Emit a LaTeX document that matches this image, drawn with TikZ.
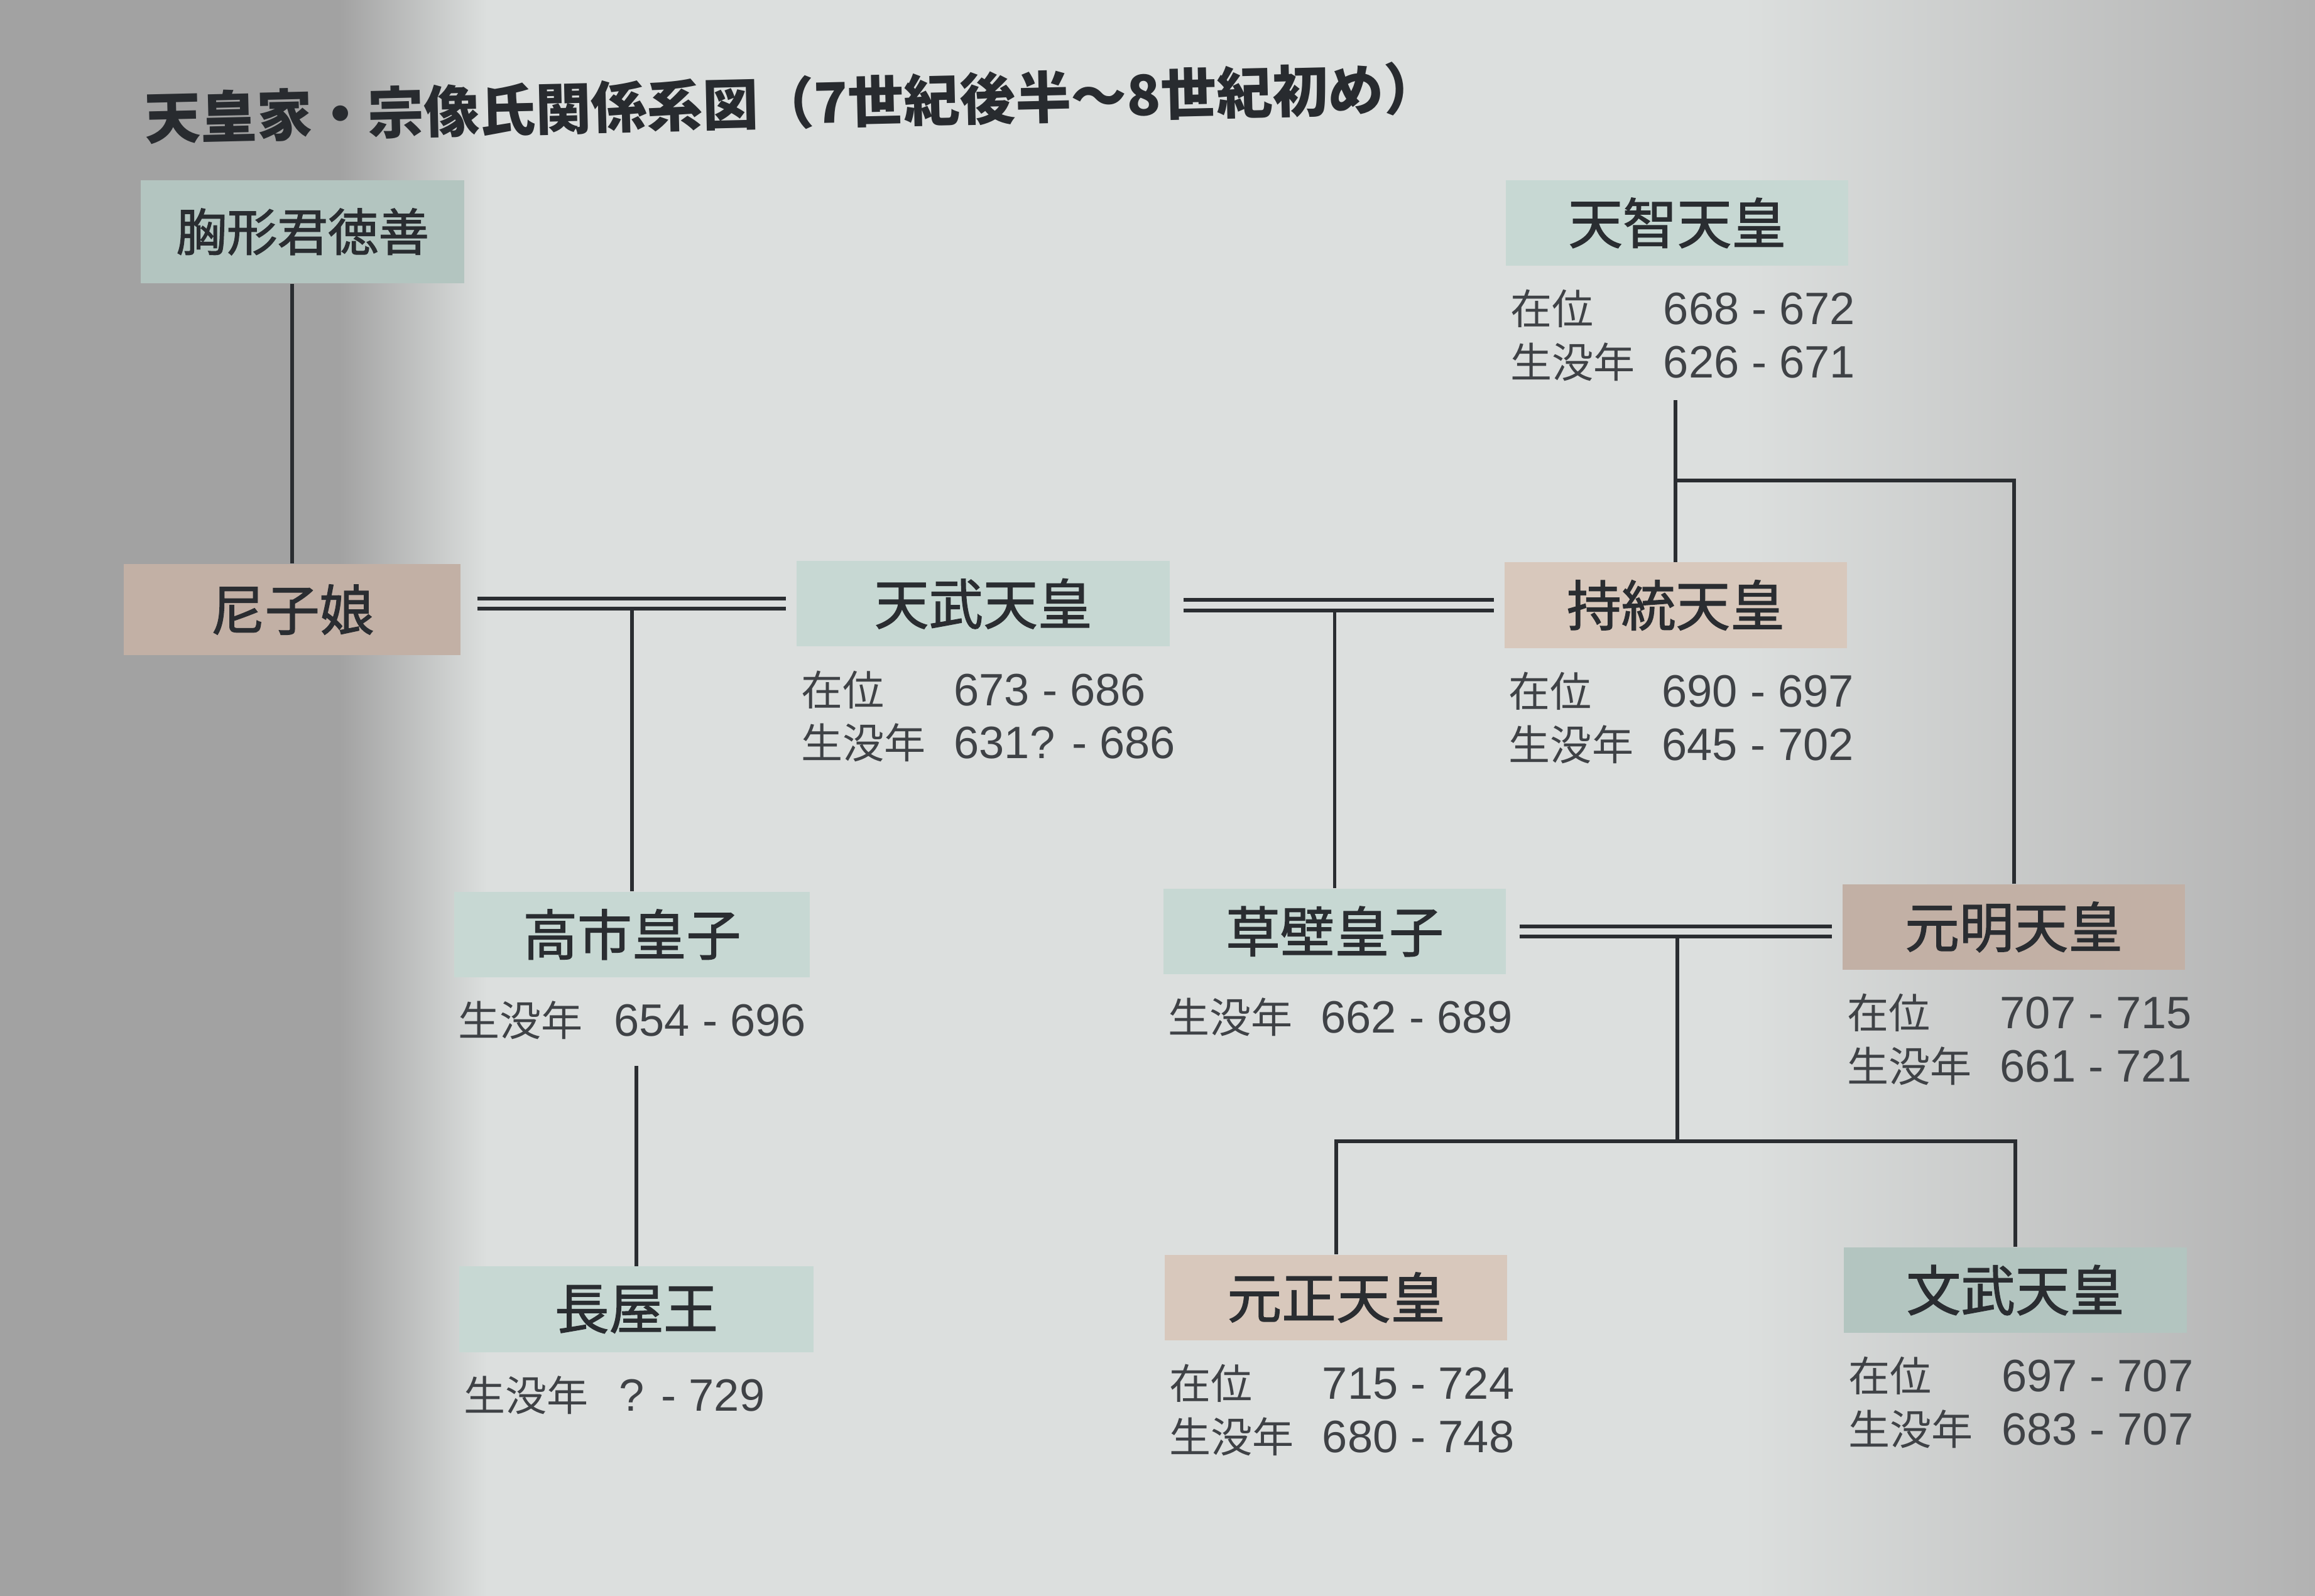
\documentclass[tikz,border=0pt]{standalone}
\usepackage{fontspec}
\usepackage{array}
\setmainfont{Noto Sans CJK JP}
\newfontfamily\boxfont{Noto Sans CJK JP}[FakeBold=1.5]
\newfontfamily\libsans{Liberation Sans}
\newcolumntype{N}{>{\libsans\fontsize{17.5}{20.5}\selectfont}l}
\usetikzlibrary{positioning}
\definecolor{paper}{HTML}{DCDFDE}
\definecolor{shadowL}{HTML}{A2A2A2}
\definecolor{shadowR}{HTML}{B2B2B2}
\definecolor{ink}{HTML}{2A2D31}
\definecolor{malefill}{HTML}{C7D8D3}
\definecolor{maleshade}{HTML}{B3C5C0}
\definecolor{femalefill}{HTML}{D8C8BC}
\definecolor{femaleshade}{HTML}{C2B0A5}
\tikzset{
  person/.style={inner sep=0pt, text=ink, minimum width=4.64cm, minimum height=1.16cm,
    font=\boxfont\fontsize{21}{25}\selectfont},
  male/.style={person, fill=malefill},
  female/.style={person, fill=femalefill},
  data/.style={below=0.28cm of #1.south west, anchor=north west, xshift=0.06cm,
    inner sep=0pt, text=ink!90, font=\fontsize{16}{20.5}\selectfont},
  line/.style={draw=ink, line width=0.05cm},
  titletext/.style={inner sep=0pt, text=ink!95!black, font=\fontsize{21.5}{25}\selectfont\bfseries},
}

\begin{document}
\begin{tikzpicture}[x=0.02cm, y=-0.02cm]
% paper, with the shadow of the photo
\useasboundingbox (0,0) rectangle (1568,1081);
\fill[paper] (0,0) rectangle (1568,1081);
\fill[shadowL] (0,0) rectangle (230,1081);
\shade[left color=shadowL, right color=paper] (230,0) rectangle (330,1081);
\shade[left color=paper, right color=shadowR] (1180,0) rectangle (1568,1081);

\node[titletext, anchor=west, rotate=1.35] (title) at (98,80) {天皇家・宗像氏関係系図（7世紀後半〜8世紀初め）};

\node[male, fill=maleshade, minimum width=4.38cm, minimum height=1.4cm,
  font=\boxfont\fontsize{19.5}{23}\selectfont] (munakata) at (205,157) {胸形君徳善};
\node[female, fill=femaleshade, minimum width=4.56cm, minimum height=1.24cm] (amako) at (198,413) {尼子娘};
\node[male, minimum width=5.06cm] (tenmu) at (666,409) {天武天皇};
\node[male] (tenji) at (1136,151) {天智天皇};
\node[female] (jito) at (1135,410) {持統天皇};
\node[male, minimum width=4.82cm] (takechi) at (428,633) {高市皇子};
\node[male] (kusakabe) at (904,631) {草壁皇子};
\node[female, fill=femaleshade] (genmei) at (1364,628) {元明天皇};
\node[male, minimum width=4.8cm] (nagaya) at (431,887) {長屋王};
\node[female] (gensho) at (905,879) {元正天皇};
\node[male, fill=maleshade] (monmu) at (1365,874) {文武天皇};

\node[data=tenmu] (tenmu-d) {\begin{tabular}{@{}l@{\hspace{11pt}}N@{}}在位 & 673 - 686\\生没年 & 631? - 686\end{tabular}};
\node[data=tenji] (tenji-d) {\begin{tabular}{@{}l@{\hspace{11pt}}N@{}}在位 & 668 - 672\\生没年 & 626 - 671\end{tabular}};
\node[data=jito] (jito-d) {\begin{tabular}{@{}l@{\hspace{11pt}}N@{}}在位 & 690 - 697\\生没年 & 645 - 702\end{tabular}};
\node[data=takechi] (takechi-d) {\begin{tabular}{@{}l@{\hspace{12pt}}N@{}}生没年 & 654 - 696\end{tabular}};
\node[data=kusakabe] (kusakabe-d) {\begin{tabular}{@{}l@{\hspace{11pt}}N@{}}生没年 & 662 - 689\end{tabular}};
\node[data=genmei] (genmei-d) {\begin{tabular}{@{}l@{\hspace{11pt}}N@{}}在位 & 707 - 715\\生没年 & 661 - 721\end{tabular}};
\node[data=nagaya] (nagaya-d) {\begin{tabular}{@{}l@{\hspace{12pt}}N@{}}生没年 & ? - 729\end{tabular}};
\node[data=gensho] (gensho-d) {\begin{tabular}{@{}l@{\hspace{11pt}}N@{}}在位 & 715 - 724\\生没年 & 680 - 748\end{tabular}};
\node[data=monmu] (monmu-d) {\begin{tabular}{@{}l@{\hspace{11pt}}N@{}}在位 & 697 - 707\\生没年 & 683 - 707\end{tabular}};

% parents
\draw[line] (amako.north |- munakata.south) -- (amako.north);
\draw[line] ([yshift=-0.08cm]jito.north |- tenji-d.south) -- (jito.north);
\draw[line] (jito.north) ++(0,-55) -| (genmei.north);

% marriages
\foreach \s in {0.07,-0.07} {
  \draw[line] ([xshift=0.22cm,yshift=\s cm]amako.east |- tenmu.west) -- ([xshift=-0.14cm,yshift=\s cm]tenmu.west);
  \draw[line] ([xshift=0.18cm,yshift=\s cm]tenmu.east |- jito.west) -- ([xshift=-0.14cm,yshift=\s cm]jito.west);
  \draw[line] ([xshift=0.18cm,yshift=\s cm]kusakabe.east) -- ([xshift=-0.14cm,yshift=\s cm]genmei.west |- kusakabe.east);
}

% children
\draw[line] ([yshift=-0.07cm]takechi.north |- tenmu.west) -- (takechi.north);
\draw[line] ([yshift=-0.18cm]nagaya.north |- takechi-d.south) -- (nagaya.north);
\draw[line] ([yshift=-0.07cm]kusakabe.north |- jito.west) -- (kusakabe.north);
\coordinate (kids) at (1136,773);
\draw[line] ([yshift=-0.07cm]kids |- kusakabe.east) -- (kids);
\draw[line] (gensho.north) |- (kids) -| (monmu.north);
\end{tikzpicture}
\end{document}
